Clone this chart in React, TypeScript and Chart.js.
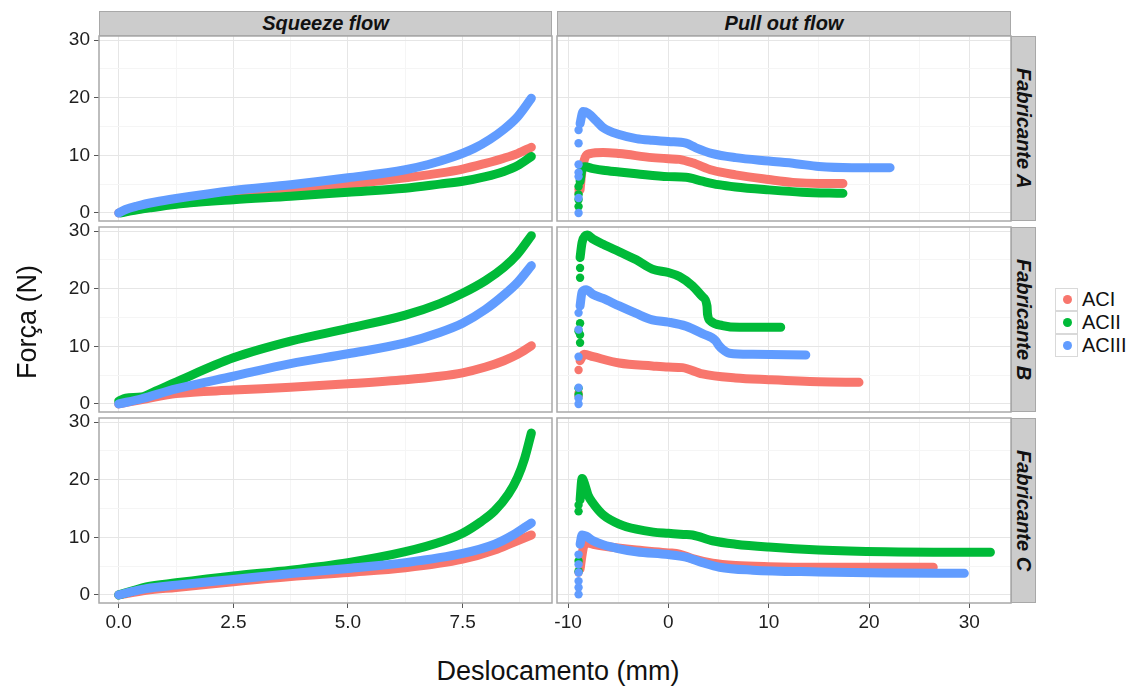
import React, { useEffect, useRef } from "react";
import { Chart, registerables } from "chart.js";
Chart.register(...registerables);

type Pt = [number, number];

const FONT = "'Liberation Sans', Arial, Helvetica, sans-serif";

// ---- categories / labels ----
const seriesNames = ["ACI", "ACII", "ACIII"];
const seriesColors = ["#F8766D", "#00BA38", "#619CFF"];
const colFacets = ["Squeeze flow", "Pull out flow"];
const rowFacets = ["Fabricante A", "Fabricante B", "Fabricante C"];
const xTitle = "Deslocamento (mm)";
const yTitle = "Força (N)";

// ---- ticks ----
const yGridTicks = [0, 5, 10, 15, 20, 25, 30];
const yLabelTicks = [0, 10, 20, 30];
const xGridTicksSqueeze = [0, 1.25, 2.5, 3.75, 5, 6.25, 7.5, 8.75];
const xLabelTicksSqueeze = [0, 2.5, 5, 7.5];
const xGridTicksPull = [-10, -5, 0, 5, 10, 15, 20, 25, 30];
const xLabelTicksPull = [-10, 0, 10, 20, 30];
const yRange = [-1.4, 30.7];
const xRangeSqueeze = [-0.43, 9.45];
const xRangePull = [-11.1, 34.15];

// ---- Squeeze flow data ----
const squeezeA_ACI: Pt[] = [[0, 0], [0.3, 0.5], [0.7, 1.0], [1.25, 1.6], [2.5, 2.5], [3.75, 3.6], [5, 4.9], [6.25, 6.1], [7.0, 6.9], [7.5, 7.6], [8.0, 8.6], [8.4, 9.5], [8.7, 10.3], [9.0, 11.4]];
const squeezeA_ACII: Pt[] = [[0.05, 0], [0.3, 0.4], [0.7, 0.9], [1.25, 1.5], [2.5, 2.3], [3.75, 2.9], [5, 3.6], [6.25, 4.3], [7.0, 5.0], [7.5, 5.5], [8.0, 6.3], [8.4, 7.2], [8.7, 8.2], [9.0, 9.8]];
const squeezeA_ACIII: Pt[] = [[0, 0], [0.15, 0.6], [0.4, 1.2], [0.8, 1.9], [1.25, 2.5], [2.5, 3.9], [3.75, 4.9], [5, 6.1], [6.25, 7.5], [6.75, 8.4], [7.25, 9.6], [7.75, 11.2], [8.1, 12.8], [8.4, 14.5], [8.7, 16.7], [9.0, 19.9]];

const squeezeB_ACI: Pt[] = [[0, 0], [0.6, 0.9], [1.25, 1.8], [2.5, 2.4], [3.75, 2.9], [5, 3.5], [6.25, 4.2], [7.0, 4.8], [7.5, 5.4], [8.0, 6.4], [8.4, 7.5], [8.7, 8.6], [9.0, 10.1]];
const squeezeB_ACII: Pt[] = [[0, 0.5], [0.15, 1.0], [0.5, 1.2], [0.8, 2.2], [1.25, 3.8], [2.5, 8.0], [3.75, 10.9], [5, 13.1], [6.25, 15.4], [7.0, 17.4], [7.5, 19.2], [8.0, 21.4], [8.4, 23.7], [8.7, 26.0], [9.0, 29.2]];
const squeezeB_ACIII: Pt[] = [[0, 0], [0.5, 0.9], [1.25, 2.6], [2.5, 4.8], [3.75, 7.0], [5, 8.7], [6.25, 10.6], [7.0, 12.4], [7.5, 14.0], [8.0, 16.4], [8.4, 18.9], [8.7, 21.1], [9.0, 24.0]];

const squeezeC_ACI: Pt[] = [[0, 0], [0.6, 0.8], [1.25, 1.3], [2.5, 2.3], [3.75, 3.2], [5, 3.9], [6.25, 4.7], [7.5, 6.2], [8.2, 7.8], [8.6, 9.1], [9.0, 10.4]];
const squeezeC_ACII: Pt[] = [[0, 0], [0.3, 0.7], [0.6, 1.4], [1.25, 2.1], [2.5, 3.3], [3.75, 4.3], [5, 5.6], [6.25, 7.5], [7.1, 9.4], [7.5, 10.7], [7.9, 12.7], [8.2, 14.6], [8.5, 17.5], [8.7, 20.4], [8.85, 23.6], [9.0, 28.1]];
const squeezeC_ACIII: Pt[] = [[0, 0], [0.3, 0.6], [0.6, 1.1], [1.25, 1.7], [2.5, 2.7], [3.75, 3.7], [5, 4.6], [6.25, 5.6], [7.5, 7.2], [8.2, 8.8], [8.6, 10.4], [9.0, 12.5]];

// ---- Pull out flow data (curve + isolated start points) ----
const pullA_ACI: Pt[] = [[-8.8, 4.0], [-8.6, 7.5], [-8.3, 9.6], [-7.8, 10.3], [-6.5, 10.5], [-4.9, 10.3], [-1.6, 9.6], [0, 9.4], [1.1, 9.3], [2.4, 8.7], [4.4, 7.4], [6.7, 6.6], [10, 5.8], [12.4, 5.3], [15, 5.1], [17.4, 5.1]];
const pullA_ACII: Pt[] = [[-8.8, 5.5], [-8.6, 7.6], [-8.3, 8.0], [-7.5, 7.7], [-6.5, 7.4], [-4.9, 7.1], [-3.2, 6.8], [0, 6.3], [1.75, 6.2], [3.4, 5.5], [5, 4.9], [6.7, 4.5], [10, 4.0], [13.3, 3.6], [17.4, 3.4]];
const pullA_ACIII: Pt[] = [[-8.8, 15.5], [-8.5, 17.6], [-8.0, 17.3], [-7.2, 16.0], [-6.5, 14.8], [-4.9, 13.6], [-3.2, 12.9], [-1.6, 12.6], [0, 12.4], [1.75, 12.1], [2.75, 11.3], [4.4, 10.3], [6.7, 9.6], [10, 9.0], [12.7, 8.55], [15, 8.05], [18.3, 7.85], [22.1, 7.85]];
const pullA_ACI_dots: Pt[] = [[-8.95, 3.5], [-8.95, 4.1]];
const pullA_ACII_dots: Pt[] = [[-8.95, 1.1], [-8.95, 2.3], [-8.95, 3.2], [-8.95, 4.6]];
const pullA_ACIII_dots: Pt[] = [[-8.95, 0], [-8.95, 2.6], [-8.95, 6.3], [-8.95, 7.0], [-8.95, 8.4], [-8.95, 12.1], [-8.95, 14.4]];

const pullB_ACI: Pt[] = [[-8.8, 7.5], [-8.4, 8.6], [-7.5, 8.2], [-4.9, 7.1], [-1.6, 6.6], [0, 6.4], [1.4, 6.3], [3.4, 5.2], [6.7, 4.5], [10, 4.2], [15, 3.85], [19.0, 3.75]];
const pullB_ACII: Pt[] = [[-8.8, 25.4], [-8.6, 28.0], [-8.1, 29.3], [-7.5, 28.6], [-6.5, 27.7], [-4.9, 26.4], [-3.2, 25.0], [-1.6, 23.4], [0, 22.8], [1.1, 22.1], [2.4, 20.5], [3.4, 18.6], [3.85, 17.0], [3.9, 15.6], [4.2, 14.4], [5.4, 13.6], [7.1, 13.3], [11.2, 13.3]];
const pullB_ACIII: Pt[] = [[-8.8, 17.0], [-8.6, 19.4], [-8.2, 19.8], [-7.5, 19.0], [-6.5, 18.3], [-4.9, 17.0], [-3.2, 15.7], [-1.6, 14.6], [0, 14.2], [1.75, 13.5], [3.4, 12.2], [4.7, 11.0], [5.0, 10.2], [5.4, 9.5], [6.1, 8.8], [8.4, 8.6], [13.7, 8.5]];
const pullB_ACI_dots: Pt[] = [[-8.95, 1.3], [-8.95, 1.9], [-8.95, 5.9]];
const pullB_ACII_dots: Pt[] = [[-8.95, 1.6], [-8.95, 2.7], [-8.8, 10.6], [-8.8, 12.0], [-8.95, 12.6], [-8.8, 14.0], [-8.8, 21.9], [-8.8, 23.6]];
const pullB_ACIII_dots: Pt[] = [[-8.95, 0], [-8.95, 1.0], [-8.95, 2.8], [-8.95, 8.2], [-8.95, 12.9], [-8.95, 15.8]];

const pullC_ACI: Pt[] = [[-8.8, 4.5], [-8.5, 8.0], [-8.3, 9.1], [-7.5, 8.8], [-6.5, 8.5], [-3.2, 7.8], [0, 7.3], [1.1, 7.1], [2.4, 6.3], [4.4, 5.5], [6.7, 5.1], [10, 4.9], [15, 4.8], [26.4, 4.8]];
const pullC_ACII: Pt[] = [[-8.8, 16.5], [-8.6, 20.2], [-8.3, 19.0], [-8.0, 17.3], [-7.5, 15.9], [-6.5, 13.9], [-4.9, 12.3], [-3.2, 11.4], [-1.5, 10.9], [0, 10.7], [1.5, 10.5], [2.4, 10.4], [4.4, 9.4], [6.7, 8.8], [10, 8.3], [15, 7.8], [21.6, 7.5], [32.1, 7.4]];
const pullC_ACIII: Pt[] = [[-8.8, 8.8], [-8.6, 10.4], [-8.2, 10.2], [-7.5, 9.4], [-6.5, 8.7], [-4.9, 8.0], [-3.2, 7.5], [0, 7.0], [1.75, 6.55], [3.4, 5.6], [5.1, 4.8], [8.4, 4.3], [15, 4.0], [21.6, 3.8], [29.5, 3.75]];
const pullC_ACI_dots: Pt[] = [[-8.95, 3.9], [-8.8, 4.8]];
const pullC_ACII_dots: Pt[] = [[-8.95, 4.1], [-8.95, 5.9], [-8.95, 14.5], [-8.95, 15.6]];
const pullC_ACIII_dots: Pt[] = [[-8.95, 0.1], [-8.95, 1.3], [-8.95, 2.4], [-8.95, 3.9], [-8.95, 5.3], [-8.95, 7.0]];

type PanelSpec = { curves: Pt[][]; dots: Pt[][] };
const panels: PanelSpec[][] = [
  [
    { curves: [squeezeA_ACI, squeezeA_ACII, squeezeA_ACIII], dots: [[], [], []] },
    { curves: [pullA_ACI, pullA_ACII, pullA_ACIII], dots: [pullA_ACI_dots, pullA_ACII_dots, pullA_ACIII_dots] },
  ],
  [
    { curves: [squeezeB_ACI, squeezeB_ACII, squeezeB_ACIII], dots: [[], [], []] },
    { curves: [pullB_ACI, pullB_ACII, pullB_ACIII], dots: [pullB_ACI_dots, pullB_ACII_dots, pullB_ACIII_dots] },
  ],
  [
    { curves: [squeezeC_ACI, squeezeC_ACII, squeezeC_ACIII], dots: [[], [], []] },
    { curves: [pullC_ACI, pullC_ACII, pullC_ACIII], dots: [pullC_ACI_dots, pullC_ACII_dots, pullC_ACIII_dots] },
  ],
];

// ---- layout ----
const COL_X = [99, 557];
const COL_W = [453, 454];
const ROW_Y = [36, 227, 418];
const ROW_H = [185, 185, 185];
const STRIP_TOP = 10.5;
const STRIP_H = 25.5;
const RSTRIP_X = 1011;
const RSTRIP_W = 25;
const PAD = 16;

const GRID_MAJOR = "#e6e6e6";
const GRID_MINOR = "#f5f5f5";
const BORDER = "#a8a8a8";
const TICK_COLOR = "#555555";
const TEXT = "#1e1e1e";

const framePlugin = {
  id: "panelFrame",
  afterDatasetsDraw(chart: any) {
    const { ctx, chartArea: a } = chart;
    ctx.save();
    ctx.strokeStyle = BORDER;
    ctx.lineWidth = 1.5;
    ctx.strokeRect(a.left, a.top, a.right - a.left, a.bottom - a.top);
    ctx.restore();
  },
};

function Panel({ r, c }: { r: number; c: number }) {
  const ref = useRef<HTMLCanvasElement>(null);
  const showY = c === 0;
  const showX = r === 2;
  const yW = showY ? 45 : 0;
  const xH = showX ? 36 : 0;
  const W = PAD + yW + COL_W[c] + PAD;
  const H = PAD + ROW_H[r] + xH + PAD;

  useEffect(() => {
    const spec = panels[r][c];
    const xGrid = c === 0 ? xGridTicksSqueeze : xGridTicksPull;
    const xLab = c === 0 ? xLabelTicksSqueeze : xLabelTicksPull;
    const xRange = c === 0 ? xRangeSqueeze : xRangePull;
    const datasets: any[] = [];
    const curveOrder = [5, 4, 3];
    const dotOrder = [2, 1, 0];
    spec.curves.forEach((pts, i) => {
      datasets.push({
        label: seriesNames[i],
        data: pts.map(([x, y]) => ({ x, y })),
        borderColor: seriesColors[i],
        backgroundColor: seriesColors[i],
        borderWidth: 9,
        pointRadius: 0,
        cubicInterpolationMode: "monotone",
        borderCapStyle: "round",
        borderJoinStyle: "round",
        fill: false,
        order: curveOrder[i],
      });
    });
    spec.dots.forEach((pts, i) => {
      if (!pts.length) return;
      datasets.push({
        label: seriesNames[i] + " start",
        data: pts.map(([x, y]) => ({ x, y })),
        showLine: false,
        pointRadius: 4.2,
        pointBorderWidth: 0,
        pointBackgroundColor: seriesColors[i],
        backgroundColor: seriesColors[i],
        borderColor: seriesColors[i],
        order: dotOrder[i],
      });
    });

    const chart = new Chart(ref.current as HTMLCanvasElement, {
      type: "line",
      data: { datasets },
      options: {
        responsive: false,
        animation: false,
        devicePixelRatio: 1,
        events: [],
        layout: { padding: PAD },
        plugins: { legend: { display: false }, tooltip: { enabled: false } },
        scales: {
          x: {
            type: "linear",
            min: xRange[0],
            max: xRange[1],
            afterBuildTicks: (s: any) => {
              s.ticks = xGrid.map((v) => ({ value: v }));
            },
            afterFit: (s: any) => {
              s.height = xH;
            },
            border: { display: false },
            grid: {
              color: (ctx: any) => (xLab.includes(ctx.tick?.value) ? GRID_MAJOR : GRID_MINOR),
              tickColor: (ctx: any) => (xLab.includes(ctx.tick?.value) ? TICK_COLOR : "rgba(0,0,0,0)"),
              drawTicks: showX,
              tickLength: 5,
              lineWidth: 1,
            },
            ticks: {
              display: showX,
              autoSkip: false,
              maxRotation: 0,
              padding: 3,
              color: TEXT,
              font: { family: FONT, size: 19 },
              callback: (v: any) => (xLab.includes(v) ? (c === 0 ? Number(v).toFixed(1) : String(v)) : ""),
            },
          },
          y: {
            type: "linear",
            min: yRange[0],
            max: yRange[1],
            afterBuildTicks: (s: any) => {
              s.ticks = yGridTicks.map((v) => ({ value: v }));
            },
            afterFit: (s: any) => {
              s.width = yW;
            },
            border: { display: false },
            grid: {
              color: (ctx: any) => (yLabelTicks.includes(ctx.tick?.value) ? GRID_MAJOR : GRID_MINOR),
              tickColor: (ctx: any) => (yLabelTicks.includes(ctx.tick?.value) ? TICK_COLOR : "rgba(0,0,0,0)"),
              drawTicks: showY,
              tickLength: 5,
              lineWidth: 1,
            },
            ticks: {
              display: showY,
              autoSkip: false,
              padding: 4,
              color: TEXT,
              font: { family: FONT, size: 19 },
              callback: (v: any) => (yLabelTicks.includes(v) ? String(v) : ""),
            },
          },
        },
      },
      plugins: [framePlugin],
    } as any);
    return () => chart.destroy();
  }, []);

  return (
    <canvas
      ref={ref}
      width={W}
      height={H}
      style={{ position: "absolute", left: COL_X[c] - PAD - yW, top: ROW_Y[r] - PAD, width: W, height: H, display: "block" }}
    />
  );
}

export default function App() {
  const stripText: React.CSSProperties = {
    fontFamily: FONT,
    fontWeight: "bold",
    fontStyle: "italic",
    fontSize: 20,
    color: "#111",
  };
  return (
    <div style={{ position: "absolute", left: 0, top: 0, width: 1132, height: 693, background: "#fff", overflow: "hidden" }}>
      {/* column strips */}
      {colFacets.map((t, c) => (
        <div
          key={t}
          style={{
            position: "absolute",
            left: COL_X[c],
            top: STRIP_TOP,
            width: COL_W[c],
            height: STRIP_H,
            background: "#cccccc",
            boxSizing: "border-box",
            border: `1px solid ${BORDER}`,
            display: "flex",
            alignItems: "center",
            justifyContent: "center",
            ...stripText,
          }}
        >
          {t}
        </div>
      ))}
      {/* row strips */}
      {rowFacets.map((t, r) => (
        <div
          key={t}
          style={{
            position: "absolute",
            left: RSTRIP_X,
            top: ROW_Y[r],
            width: RSTRIP_W,
            height: ROW_H[r],
            background: "#cccccc",
            boxSizing: "border-box",
            border: `1px solid ${BORDER}`,
            display: "flex",
            alignItems: "center",
            justifyContent: "center",
            ...stripText,
          }}
        >
          <span style={{ writingMode: "vertical-rl", whiteSpace: "nowrap" }}>{t}</span>
        </div>
      ))}
      {/* panels */}
      {[0, 1, 2].map((r) => [0, 1].map((c) => <Panel key={`${r}-${c}`} r={r} c={c} />))}
      {/* axis titles */}
      <div
        style={{
          position: "absolute",
          left: 558 - 200,
          width: 400,
          top: 656,
          textAlign: "center",
          fontFamily: FONT,
          fontSize: 27,
          color: "#111",
          lineHeight: "30px",
        }}
      >
        {xTitle}
      </div>
      <div
        style={{
          position: "absolute",
          left: 27 - 150,
          top: 322 - 15,
          width: 300,
          height: 30,
          textAlign: "center",
          fontFamily: FONT,
          fontSize: 27,
          color: "#111",
          lineHeight: "30px",
          transform: "rotate(-90deg)",
        }}
      >
        {yTitle}
      </div>
      {/* legend */}
      {seriesNames.map((s, i) => (
        <React.Fragment key={s}>
          <div
            style={{
              position: "absolute",
              left: 1055,
              top: 287.5 + i * 23.2,
              width: 23,
              height: 23.2,
              boxSizing: "border-box",
              border: "1px solid #d9d9d9",
              background: "#fff",
            }}
          >
            <div
              style={{
                position: "absolute",
                left: 6.5,
                top: 6.6,
                width: 9,
                height: 9,
                borderRadius: "50%",
                background: seriesColors[i],
              }}
            />
          </div>
          <div
            style={{
              position: "absolute",
              left: 1082,
              top: 287.5 + i * 23.2,
              height: 23.2,
              lineHeight: "23.2px",
              fontFamily: FONT,
              fontSize: 20,
              color: "#111",
            }}
          >
            {s}
          </div>
        </React.Fragment>
      ))}
    </div>
  );
}
